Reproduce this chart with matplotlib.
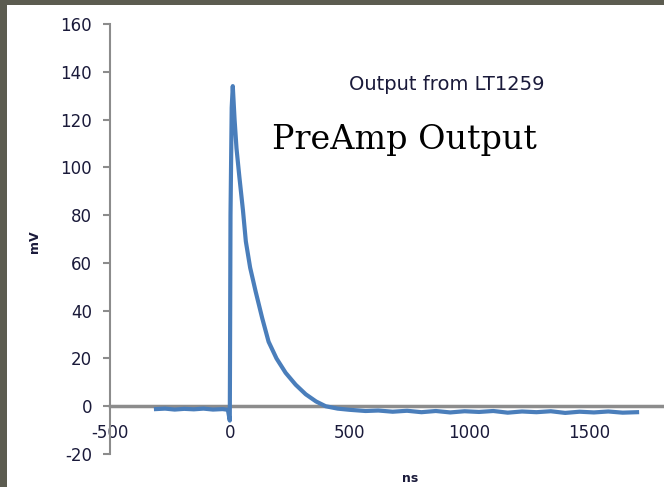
import numpy as np
import matplotlib
matplotlib.use('Agg')
import matplotlib.pyplot as plt

plt.rcParams['axes.unicode_minus'] = False

# signal (ns, mV)
t_ns = [-308, -270, -230, -190, -150, -110, -70, -30, -8, 0, 1, 3, 8, 12.5,
        20, 28, 40, 55, 67, 85, 108, 135, 162, 195, 233, 275, 317, 360, 400, 450,
        500, 567, 620, 680, 740, 800, 860, 920, 980, 1040, 1100, 1160, 1220,
        1280, 1340, 1400, 1460, 1520, 1580, 1640, 1700]
mv = [-1.2, -1.0, -1.4, -1.1, -1.3, -1.0, -1.4, -1.2, -1.5, -6, 20, 80, 125, 134,
      120, 108, 96, 82, 69, 58, 48, 37, 27, 20, 14, 9, 5, 2, 0, -1,
      -1.5, -2.0, -1.8, -2.3, -1.9, -2.5, -2.0, -2.6, -2.1, -2.4, -2.0, -2.7, -2.2,
      -2.5, -2.1, -2.8, -2.3, -2.6, -2.2, -2.7, -2.5]

xticks = [-500, 0, 500, 1000, 1500]
yticks = [-20, 0, 20, 40, 60, 80, 100, 120, 140, 160]

W, H = 664, 487
fig = plt.figure(figsize=(W / 100, H / 100), dpi=100)
fig.patch.set_facecolor('#5c5c50')

# white slide panel
bg = fig.add_axes([7 / W, 0, 1 - 7 / W, (H - 5) / H])
bg.set_facecolor('white')
bg.set_xticks([])
bg.set_yticks([])
for s in bg.spines.values():
    s.set_visible(False)

# plot area in pixels
left, right, top, bottom = 110, 664, 24, 454
ax = fig.add_axes([left / W, (H - bottom) / H, (right - left) / W, (bottom - top) / H])
ax.patch.set_alpha(0)

ax.plot(t_ns, mv, color='#4a7ebb', lw=3, solid_joinstyle='round', zorder=3)

ax.set_xlim(-500, (right - 229) * 500 / 120)
ax.set_ylim(-20, 160)
ax.set_xticks(xticks)
ax.set_yticks(yticks)

ax.spines['top'].set_visible(False)
ax.spines['right'].set_visible(False)
ax.spines['left'].set_color('#8c8c8c')
ax.spines['left'].set_linewidth(1.5)
ax.spines['bottom'].set_position(('data', 0))
ax.spines['bottom'].set_color('#8c8c8c')
ax.spines['bottom'].set_linewidth(2.5)

ax.tick_params(axis='y', length=5, width=1.5, color='#8c8c8c', labelsize=12,
               labelcolor='#1a1a3a', pad=8)
ax.tick_params(axis='x', length=0, labelsize=12, labelcolor='#1a1a3a', pad=13)

ax.set_ylabel('mV', fontsize=9, fontweight='bold', color='#1a1a3a')
ax.yaxis.set_label_coords(-0.125, 0.493)
ax.set_xlabel('ns', fontsize=9, fontweight='bold', color='#1a1a3a')
ax.xaxis.set_label_coords(0.5415, -0.042)

fig.text(447 / W, 1 - 85 / H, 'Output from LT1259', fontsize=14,
         color='#1a1a3a', ha='center', va='center')
fig.text(404 / W, 1 - 140 / H, 'PreAmp Output', family='DejaVu Serif',
         fontsize=24, color='black', ha='center', va='center')

fig.savefig('out.png', dpi=100, facecolor=fig.get_facecolor())
